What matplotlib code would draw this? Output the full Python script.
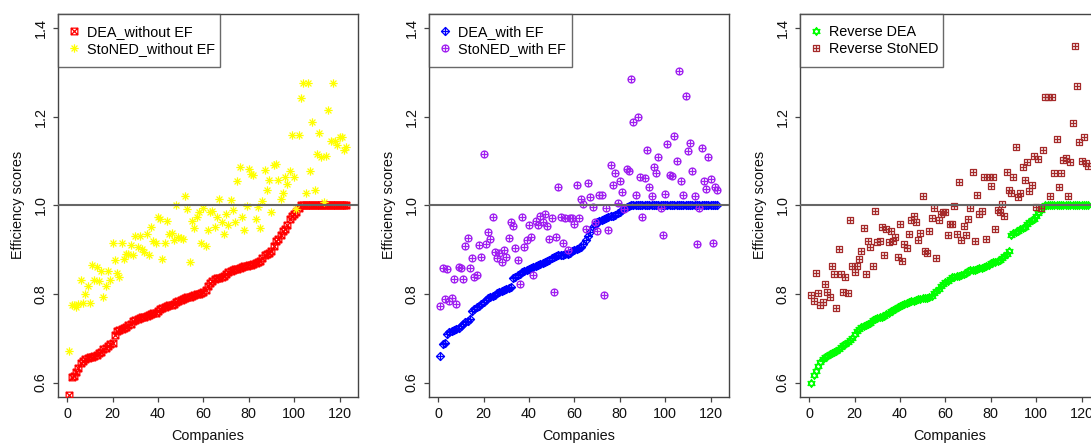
import numpy as np
import matplotlib
matplotlib.use("Agg")
import matplotlib.pyplot as plt
from matplotlib.path import Path

plt.rcParams['font.family'] = ['Liberation Sans', 'DejaVu Sans']

companies = list(range(1, 124))
x_ticks = [0, 20, 40, 60, 80, 100, 120]
y_ticks = [0.6, 0.8, 1.0, 1.2, 1.4]
y_tick_labels = ["0.6", "0.8", "1.0", "1.2", "1.4"]

dea_without_ef = [
    0.572, 0.613, 0.614, 0.624, 0.632, 0.645, 0.648, 0.654, 0.656, 0.657,
    0.658, 0.660, 0.663, 0.667, 0.670, 0.675, 0.677, 0.683, 0.688, 0.690,
    0.707, 0.716, 0.718, 0.720, 0.722, 0.725, 0.729, 0.732, 0.739, 0.741,
    0.743, 0.746, 0.748, 0.749, 0.750, 0.752, 0.754, 0.756, 0.758, 0.762,
    0.765, 0.768, 0.770, 0.772, 0.774, 0.776, 0.778, 0.781, 0.784, 0.786,
    0.788, 0.790, 0.792, 0.794, 0.795, 0.797, 0.799, 0.800, 0.802, 0.804,
    0.810, 0.817, 0.824, 0.830, 0.833, 0.835, 0.837, 0.838, 0.841, 0.845,
    0.849, 0.852, 0.854, 0.856, 0.857, 0.859, 0.861, 0.862, 0.863, 0.865,
    0.866, 0.868, 0.870, 0.872, 0.875, 0.882, 0.889, 0.891, 0.893, 0.897,
    0.909, 0.920, 0.925, 0.932, 0.941, 0.946, 0.955, 0.970, 0.976, 0.981,
    0.986, 0.995, 1.000, 1.000, 1.000, 1.000, 1.000, 1.000, 1.000, 1.000,
    1.000, 1.000, 1.000, 1.000, 1.000, 1.000, 1.000, 1.000, 1.000, 1.000,
    1.000, 1.000, 1.000]

stoned_without_ef = [
    0.671, 0.775, 0.776, 0.771, 0.778, 0.831, 0.780, 0.800, 0.818, 0.780,
    0.866, 0.831, 0.860, 0.830, 0.851, 0.794, 0.817, 0.851, 0.831, 0.914,
    0.876, 0.847, 0.839, 0.914, 0.880, 0.890, 0.890, 0.910, 0.888, 0.931,
    0.905, 0.931, 0.901, 0.894, 0.935, 0.888, 0.950, 0.920, 0.916, 0.973,
    0.969, 0.879, 0.916, 0.964, 0.935, 0.937, 0.922, 1.000, 0.929, 0.926,
    0.925, 1.022, 0.992, 0.873, 0.965, 0.948, 0.973, 0.986, 0.916, 0.995,
    0.909, 0.944, 0.984, 0.988, 0.950, 0.974, 1.014, 0.962, 0.935, 0.980,
    0.956, 1.011, 0.989, 0.963, 1.054, 1.087, 0.973, 0.944, 0.998, 1.082,
    1.071, 1.069, 0.969, 0.997, 0.949, 1.009, 1.080, 1.035, 1.057, 0.986,
    1.091, 1.093, 1.057, 1.014, 1.027, 1.065, 1.048, 1.077, 1.159, 1.065,
    0.992, 1.159, 1.243, 1.276, 1.029, 1.276, 1.078, 1.188, 1.035, 1.115,
    1.164, 1.110, 1.007, 1.112, 1.216, 1.146, 1.276, 1.146, 1.137, 1.155,
    1.154, 1.126, 1.131]

dea_with_ef = [
    0.659, 0.687, 0.690, 0.709, 0.715, 0.717, 0.719, 0.721, 0.724, 0.728,
    0.732, 0.736, 0.740, 0.743, 0.762, 0.765, 0.770, 0.773, 0.778, 0.782,
    0.786, 0.790, 0.793, 0.796, 0.798, 0.801, 0.804, 0.806, 0.808, 0.812,
    0.813, 0.815, 0.835, 0.838, 0.842, 0.845, 0.850, 0.852, 0.854, 0.856,
    0.859, 0.861, 0.863, 0.865, 0.867, 0.869, 0.871, 0.874, 0.877, 0.881,
    0.883, 0.885, 0.887, 0.888, 0.889, 0.890, 0.891, 0.893, 0.896, 0.899,
    0.902, 0.904, 0.907, 0.913, 0.922, 0.931, 0.940, 0.950, 0.956, 0.962,
    0.965, 0.968, 0.970, 0.972, 0.974, 0.976, 0.977, 0.979, 0.983, 0.986,
    0.990, 0.993, 0.996, 0.999, 1.000, 1.000, 1.000, 1.000, 1.000, 1.000,
    1.000, 1.000, 1.000, 1.000, 1.000, 1.000, 1.000, 1.000, 1.000, 1.000,
    1.000, 1.000, 1.000, 1.000, 1.000, 1.000, 1.000, 1.000, 1.000, 1.000,
    1.000, 1.000, 1.000, 1.000, 1.000, 1.000, 1.000, 1.000, 1.000, 1.000,
    1.000, 1.000, 1.000]

stoned_with_ef = [
    0.773, 0.858, 0.788, 0.856, 0.783, 0.790, 0.833, 0.778, 0.861, 0.858,
    0.833, 0.909, 0.926, 0.858, 0.882, 0.839, 0.843, 0.911, 0.884, 1.116,
    0.913, 0.940, 0.923, 0.974, 0.894, 0.881, 0.892, 0.873, 0.899, 0.884,
    0.926, 0.963, 0.954, 0.904, 0.876, 0.822, 0.974, 0.905, 0.922, 0.956,
    0.929, 0.843, 0.965, 0.956, 0.977, 0.963, 0.980, 0.954, 0.924, 0.971,
    0.805, 0.929, 1.041, 0.973, 0.914, 0.971, 0.899, 0.971, 0.971, 0.958,
    1.047, 0.971, 1.014, 1.002, 0.946, 1.051, 1.018, 0.997, 0.962, 0.943,
    1.024, 1.024, 0.797, 0.995, 0.944, 1.091, 1.046, 1.073, 1.005, 1.056,
    1.031, 0.992, 1.081, 1.078, 1.286, 1.189, 1.024, 1.199, 1.063, 0.973,
    1.061, 1.125, 1.041, 1.020, 1.086, 1.072, 1.110, 0.994, 0.933, 1.026,
    1.139, 1.069, 1.067, 1.156, 1.099, 1.303, 1.054, 1.023, 1.246, 1.122,
    1.140, 1.078, 1.022, 0.913, 0.994, 1.130, 1.054, 1.037, 1.110, 1.060,
    0.914, 1.042, 1.035]

reverse_dea = [
    0.599, 0.618, 0.626, 0.638, 0.646, 0.653, 0.657, 0.661, 0.665, 0.667,
    0.670, 0.672, 0.675, 0.680, 0.684, 0.687, 0.691, 0.695, 0.700, 0.710,
    0.717, 0.721, 0.725, 0.728, 0.730, 0.732, 0.734, 0.741, 0.744, 0.746,
    0.747, 0.749, 0.751, 0.755, 0.758, 0.761, 0.764, 0.766, 0.771, 0.773,
    0.776, 0.777, 0.779, 0.781, 0.783, 0.785, 0.786, 0.788, 0.789, 0.790,
    0.790, 0.791, 0.794, 0.796, 0.801, 0.806, 0.812, 0.818, 0.822, 0.826,
    0.830, 0.834, 0.838, 0.839, 0.840, 0.841, 0.843, 0.845, 0.848, 0.851,
    0.853, 0.854, 0.855, 0.856, 0.858, 0.859, 0.861, 0.863, 0.866, 0.869,
    0.871, 0.873, 0.875, 0.877, 0.881, 0.886, 0.891, 0.896, 0.934, 0.937,
    0.940, 0.943, 0.946, 0.949, 0.952, 0.958, 0.963, 0.967, 0.970, 0.976,
    0.982, 0.989, 0.996, 1.000, 1.000, 1.000, 1.000, 1.000, 1.000, 1.000,
    1.000, 1.000, 1.000, 1.000, 1.000, 1.000, 1.000, 1.000, 1.000, 1.000,
    1.000, 1.000, 1.000]

reverse_stoned = [
    0.798, 0.783, 0.847, 0.802, 0.774, 0.781, 0.823, 0.805, 0.794, 0.864,
    0.845, 0.768, 0.902, 0.844, 0.804, 0.839, 0.802, 0.968, 0.862, 0.849,
    0.864, 0.879, 0.898, 0.949, 0.845, 0.920, 0.905, 0.864, 0.988, 0.917,
    0.919, 0.950, 0.889, 0.947, 0.917, 0.943, 0.920, 0.929, 0.883, 0.959,
    0.875, 0.913, 0.903, 0.935, 0.967, 0.977, 0.962, 0.922, 0.937, 1.022,
    0.898, 0.892, 0.941, 0.971, 0.995, 0.881, 0.968, 0.980, 0.984, 0.986,
    0.933, 0.958, 0.958, 0.999, 0.935, 1.053, 0.922, 0.954, 0.933, 0.969,
    0.993, 1.076, 0.920, 1.024, 0.980, 0.988, 1.063, 0.924, 1.063, 1.044,
    1.065, 0.947, 0.989, 0.984, 1.002, 0.977, 1.076, 1.035, 1.029, 1.065,
    1.132, 1.018, 1.029, 1.086, 1.058, 1.097, 1.033, 1.047, 1.112, 0.997,
    1.104, 0.994, 1.125, 1.244, 1.245, 1.020, 1.245, 1.074, 1.150, 1.042,
    1.074, 1.102, 1.107, 1.020, 1.098, 1.187, 1.359, 1.269, 1.142, 1.101,
    1.155, 1.095, 1.088]


# ---- R-like plotting symbols (pch 7..12) ----
def seg(a, b):
    return Path([a, b], [Path.MOVETO, Path.LINETO])

def closed(pts):
    return Path(pts + [pts[0]], [Path.MOVETO] + [Path.LINETO] * (len(pts) - 1) + [Path.CLOSEPOLY])

sq = closed([(-1, -1), (1, -1), (1, 1), (-1, 1)])
pch7 = Path.make_compound_path(sq, seg((-1, -1), (1, 1)), seg((-1, 1), (1, -1)))
d = 0.7071
pch8 = Path.make_compound_path(seg((-1, 0), (1, 0)), seg((0, -1), (0, 1)),
                               seg((-d, -d), (d, d)), seg((-d, d), (d, -d)))
pch9 = Path.make_compound_path(closed([(0, -1), (1, 0), (0, 1), (-1, 0)]),
                               seg((-1, 0), (1, 0)), seg((0, -1), (0, 1)))
pch10 = Path.make_compound_path(Path.unit_circle(), seg((-1, 0), (1, 0)), seg((0, -1), (0, 1)))
pch11 = Path.make_compound_path(closed([(0, 1), (0.866, -0.5), (-0.866, -0.5)]),
                                closed([(0, -1), (0.866, 0.5), (-0.866, 0.5)]))
pch12 = Path.make_compound_path(sq, seg((-1, 0), (1, 0)), seg((0, -1), (0, 1)))

panels = [
    (dea_without_ef, "DEA_without EF", pch7, "#FF0000", 4.8,
     stoned_without_ef, "StoNED_without EF", pch8, "#FFFF00", 6.0, 0.5414),
    (dea_with_ef, "DEA_with EF", pch9, "#0000FF", 5.8,
     stoned_with_ef, "StoNED_with EF", pch10, "#A020F0", 5.0, 0.476),
    (reverse_dea, "Reverse DEA", pch11, "#00FF00", 5.8,
     reverse_stoned, "Reverse StoNED", pch12, "#A52A2A", 4.8, 0.476),
]

fig = plt.figure(figsize=(10.91, 4.44), dpi=100)
lefts = [58.3 / 1091, 429.3 / 1091, 800.3 / 1091]
W = 299.2 / 1091
B = (444 - 396.7) / 444
H = 382.7 / 444
FS = 10.4
frame_col = "#444444"

for left, p in zip(lefts, panels):
    (s1, l1, m1, c1, ms1, s2, l2, m2, c2, ms2, legw) = p
    ax = fig.add_axes([left, B, W, H])
    ax.plot(companies, s1, linestyle="none", marker=m1, markersize=ms1,
            markerfacecolor="none", markeredgecolor=c1, markeredgewidth=0.9,
            label=l1, zorder=3)
    ax.plot(companies, s2, linestyle="none", marker=m2, markersize=ms2,
            markerfacecolor="none", markeredgecolor=c2, markeredgewidth=0.9,
            label=l2, zorder=3)
    ax.axhline(1.0, color="#666666", linewidth=1.5, zorder=4)
    ax.set_xlim(-3.88, 127.88)
    ax.set_ylim(0.568, 1.432)
    ax.set_xticks(x_ticks)
    ax.set_yticks(y_ticks)
    ax.set_yticklabels(y_tick_labels, rotation=90, va="center")
    ax.tick_params(axis="both", direction="out", length=3.6, width=0.9,
                   color=frame_col, labelsize=FS, labelcolor="#111111", pad=4)
    for sp in ax.spines.values():
        sp.set_color(frame_col)
        sp.set_linewidth(1.0)
    ax.set_xlabel("Companies", fontsize=FS, color="#111111", va="center")
    ax.xaxis.set_label_coords(0.5, -0.103)
    ax.set_ylabel("Efficiency scores", fontsize=FS, color="#111111", va="center")
    ax.yaxis.set_label_coords(-0.134, 0.5)
    leg = ax.legend(loc="upper left", bbox_to_anchor=(0, 0, legw, 1), mode="expand",
                    borderaxespad=0, fontsize=FS, frameon=True, fancybox=False,
                    borderpad=0.76, labelspacing=0.22, handlelength=0.6,
                    handletextpad=0.62, numpoints=1)
    leg.get_frame().set_edgecolor(frame_col)
    leg.get_frame().set_linewidth(1.0)
    leg.set_zorder(5)

fig.savefig("out.png", dpi=100)
